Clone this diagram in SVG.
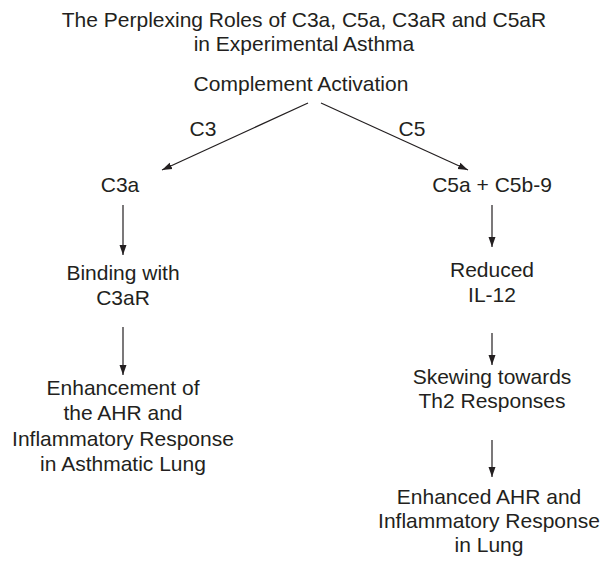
<svg xmlns="http://www.w3.org/2000/svg" width="607" height="561" viewBox="0 0 607 561">
<defs>
<marker id="ah" viewBox="0 0 10 10" refX="10" refY="5" markerWidth="10" markerHeight="10" markerUnits="userSpaceOnUse" orient="auto">
<path d="M0,1.5 L10,5 L0,8.5 Z" fill="#231f20"/>
</marker>
</defs>
<style>
text{font-family:"Liberation Sans",Arial,sans-serif;font-size:21px;fill:#231f20;text-anchor:middle}
.c line{stroke:#231f20;stroke-width:1.2;marker-end:url(#ah)}
</style>
<rect width="607" height="561" fill="#fff"/>
<g id="title"><text x="304" y="27">The Perplexing Roles of C3a, C5a, C3aR and C5aR</text><text x="304" y="51">in Experimental Asthma</text></g>
<g id="n-activation"><text x="301" y="91">Complement Activation</text></g>
<g id="n-c3a"><text x="120" y="192">C3a</text></g>
<g id="n-binding"><text x="123" y="280">Binding with</text><text x="123" y="305">C3aR</text></g>
<g id="n-enh"><text x="123" y="395">Enhancement of</text><text x="123" y="420">the AHR and</text><text x="123" y="446">Inflammatory Response</text><text x="123" y="471">in Asthmatic Lung</text></g>
<g id="n-c5a"><text x="492" y="192">C5a + C5b-9</text></g>
<g id="n-reduced"><text x="492" y="277">Reduced</text><text x="492" y="302">IL-12</text></g>
<g id="n-skew"><text x="492" y="384">Skewing towards</text><text x="492" y="408">Th2 Responses</text></g>
<g id="n-enh2"><text x="489" y="504">Enhanced AHR and</text><text x="489" y="528">Inflammatory Response</text><text x="489" y="552">in Lung</text></g>
<g id="connectors" class="c">
<line x1="308" y1="103" x2="162" y2="170"/>
<line x1="321" y1="103" x2="468" y2="170"/>
<line x1="123" y1="205" x2="123" y2="255"/>
<line x1="123" y1="327" x2="123" y2="375"/>
<line x1="492" y1="205" x2="492" y2="247"/>
<line x1="492" y1="333" x2="492" y2="365"/>
<line x1="492" y1="440" x2="492" y2="477"/>
<text x="203" y="136">C3</text>
<text x="412" y="136">C5</text>
</g>
</svg>
